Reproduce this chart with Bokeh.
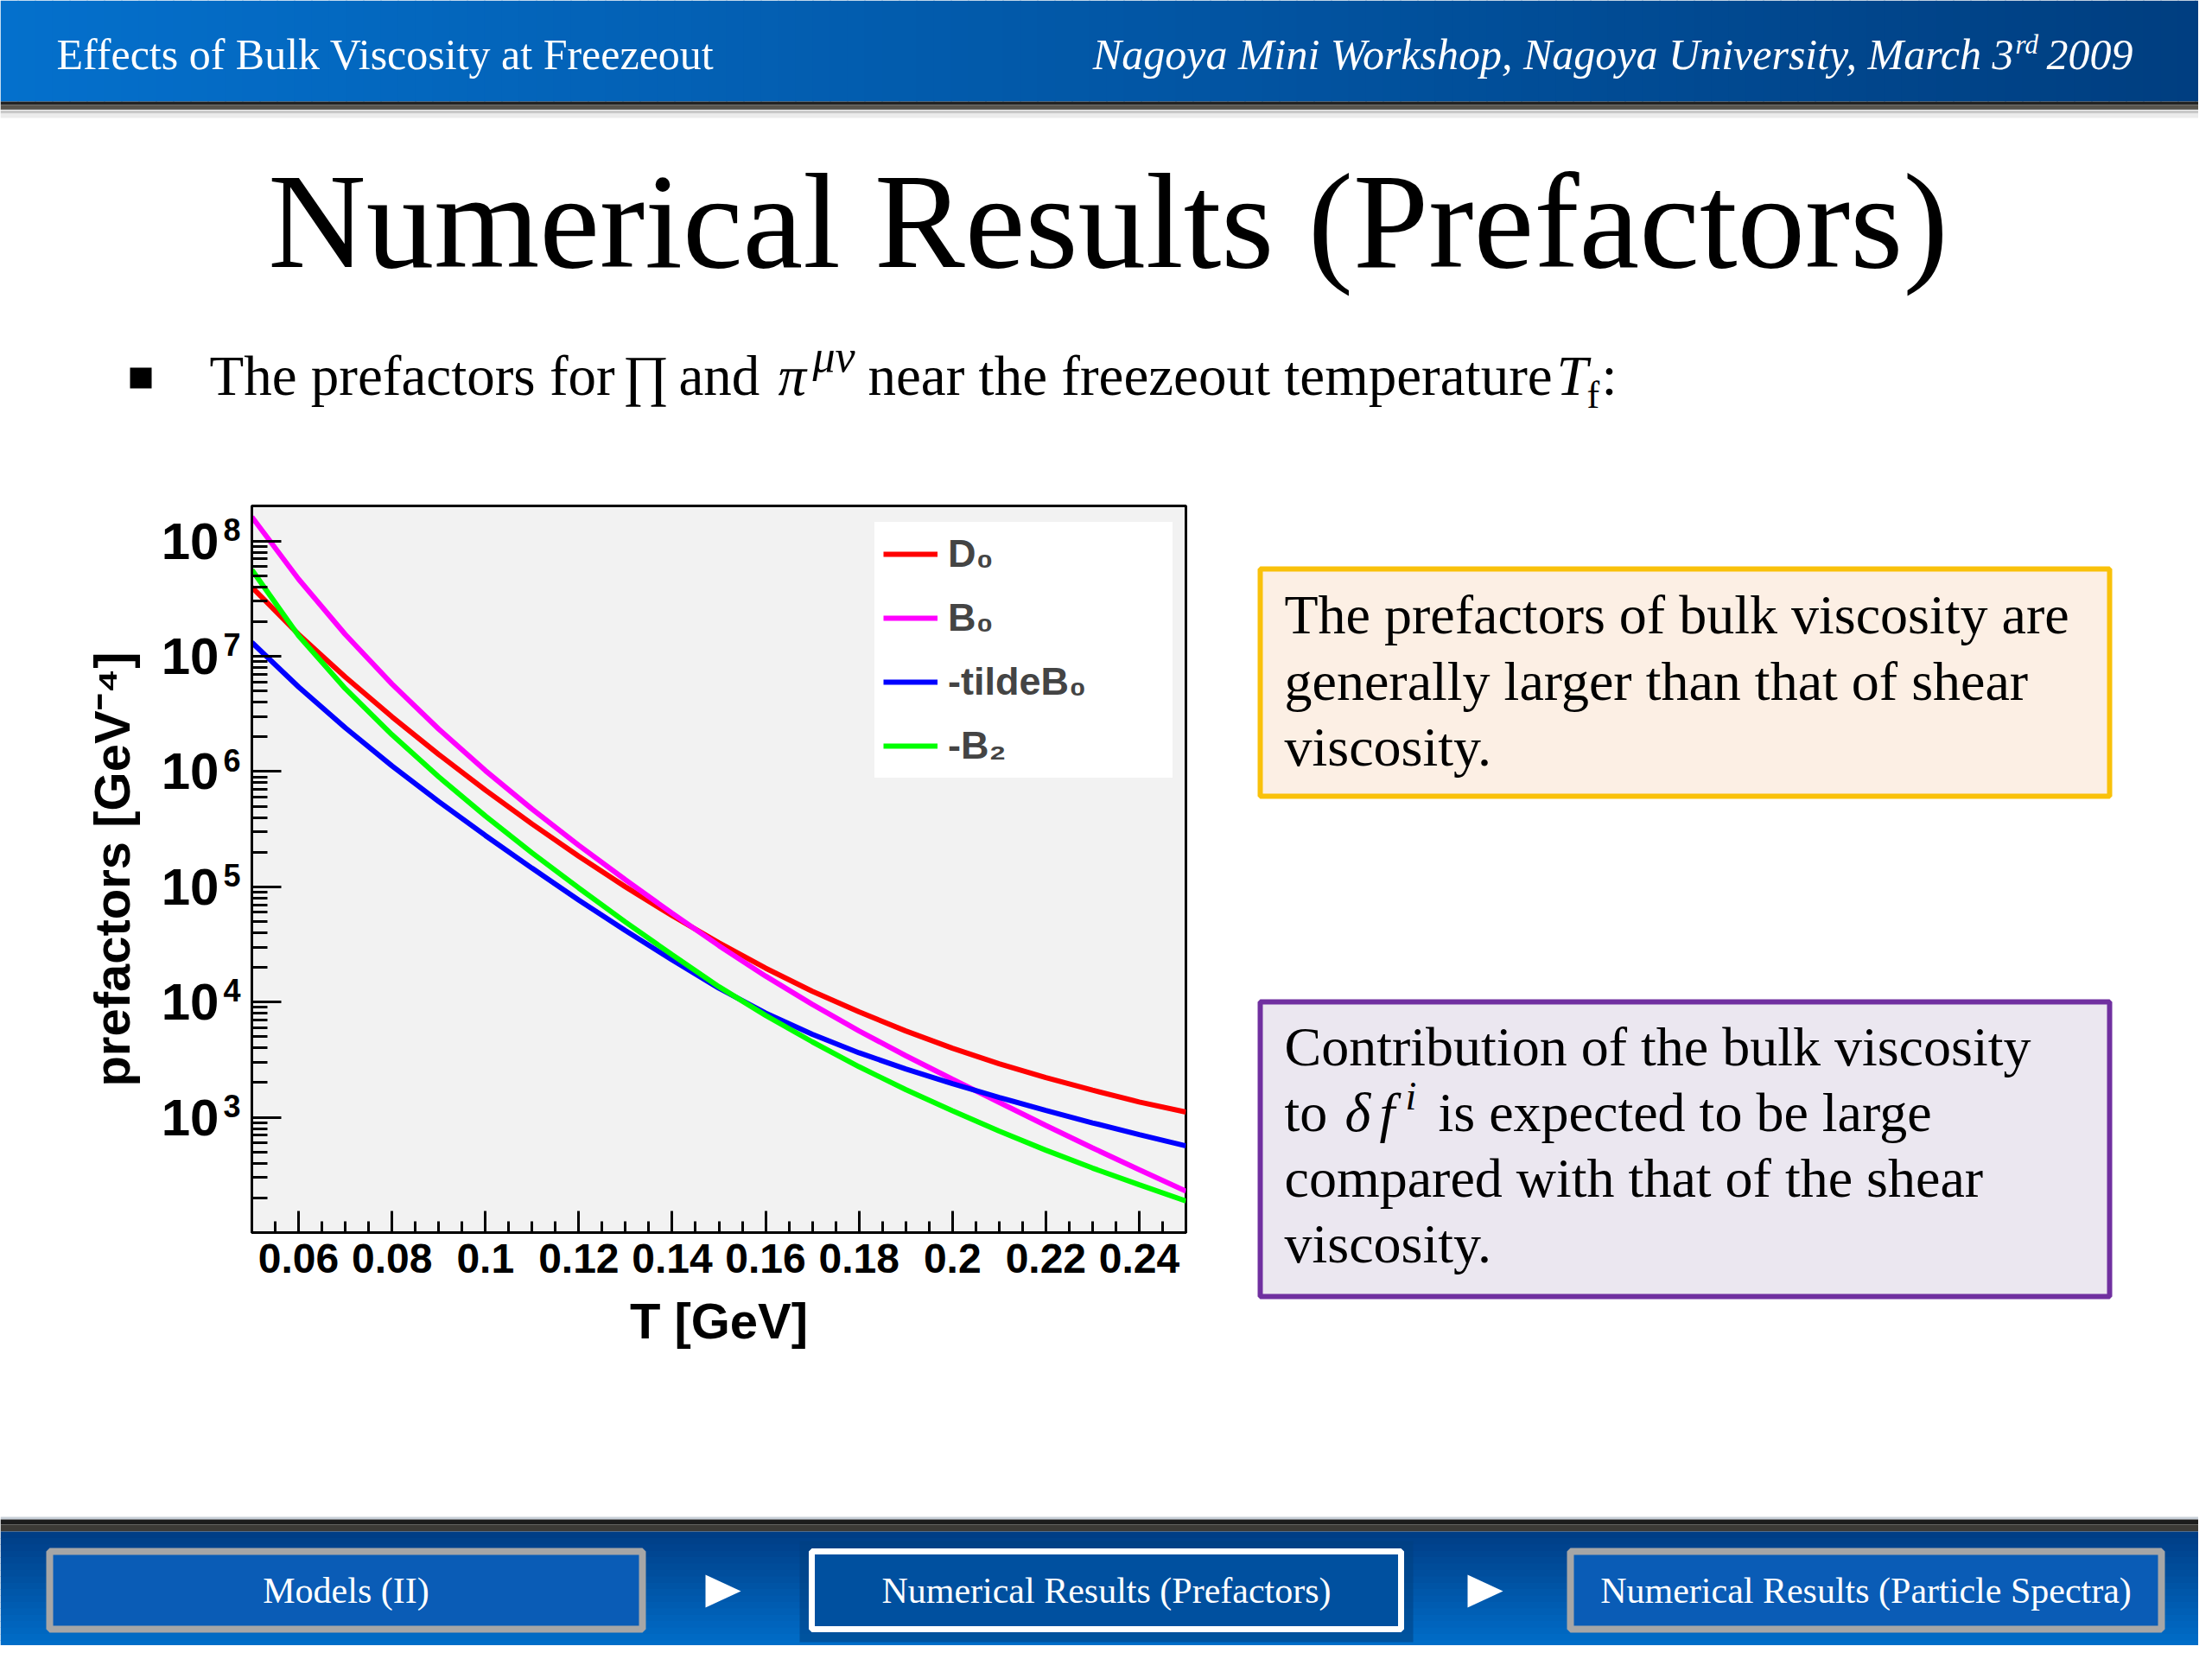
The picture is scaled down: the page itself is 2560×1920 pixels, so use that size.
from bokeh.plotting import figure
from bokeh.models import Range1d, FixedTicker, Legend, LegendItem, LogAxis
from bokeh.layouts import column, row
from bokeh.embed import file_html
from bokeh.resources import INLINE
from bokeh.core.properties import value

# ---------------- data ----------------
T = [0.05, 0.06, 0.07, 0.08, 0.09, 0.10, 0.11, 0.12, 0.13, 0.14, 0.15,
     0.16, 0.17, 0.18, 0.19, 0.20, 0.21, 0.22, 0.23, 0.24, 0.25]
D0 = [3.98e7, 1.55e7, 6.61e6, 2.99e6, 1.41e6, 6.92e5, 3.51e5, 1.84e5, 1.00e5, 5.62e4, 3.27e4,
      1.97e4, 1.24e4, 8.22e3, 5.62e3, 3.98e3, 2.92e3, 2.21e3, 1.72e3, 1.36e3, 1.11e3]
B0 = [1.62e8, 4.68e7, 1.55e7, 5.75e6, 2.34e6, 1.02e6, 4.73e5, 2.29e5, 1.15e5, 5.89e4, 3.09e4,
      1.68e4, 9.55e3, 5.62e3, 3.43e3, 2.14e3, 1.35e3, 851, 543, 351, 229]
mtildeB0 = [1.32e7, 5.43e6, 2.40e6, 1.12e6, 5.50e5, 2.79e5, 1.45e5, 7.67e4, 4.17e4, 2.32e4, 1.32e4,
            8.04e3, 5.25e3, 3.63e3, 2.63e3, 1.96e3, 1.49e3, 1.15e3, 895, 708, 566]
mB2 = [5.62e7, 1.51e7, 5.25e6, 2.09e6, 9.02e5, 4.12e5, 1.97e5, 9.77e4, 4.95e4, 2.57e4, 1.36e4,
       7.67e3, 4.52e3, 2.75e3, 1.74e3, 1.14e3, 759, 519, 363, 260, 188]

series = [D0, B0, mtildeB0, mB2]
series_names = ["D\u2080", "B\u2080", "-tildeB\u2080", "-B\u2082"]
series_colors = ["#ff0000", "#ff00ff", "#0000ff", "#00ff00"]

x_major = [0.06, 0.08, 0.1, 0.12, 0.14, 0.16, 0.18, 0.2, 0.22, 0.24]
x_labels = ["0.06", "0.08", "0.1", "0.12", "0.14", "0.16", "0.18", "0.2", "0.22", "0.24"]
x_minor = [round(0.05 + 0.005 * i, 3) for i in range(41)]
x_minor = [v for v in x_minor if all(abs(v - m) > 1e-9 for m in x_major)]
y_major = [10**3, 10**4, 10**5, 10**6, 10**7, 10**8]
y_base = "10"
y_exponents = ["3", "4", "5", "6", "7", "8"]
y_minor = [k * 10**e for e in range(2, 9) for k in range(2, 10) if k * 10**e < 2.0e8]

x_title = "T [GeV]"
y_title = "prefactors [GeV\u207b\u2074]"

SERIF = "Liberation Serif"
SANS = "Liberation Sans"


# ---------------- helpers for the slide decoration ----------------
def deco_fig(x0, x1, y0, y1):
    f = figure(width=int(x1 - x0), height=int(y1 - y0),
               x_range=Range1d(x0, x1), y_range=Range1d(y1, y0),
               output_backend="svg", toolbar_location=None,
               x_axis_type=None, y_axis_type=None, min_border=0,
               outline_line_color=None, background_fill_color="white",
               border_fill_color="white")
    return f


BASE_SHIFT = 0.35  # renderer places text this fraction of the size below the given y


def txt(f, x, y, s, size, color="black", font=SERIF, style="normal", align="left"):
    f.text(x=[x], y=[y - BASE_SHIFT * size], text=[s], text_font=value(font),
           text_font_size=value(f"{size}px"), text_font_style=value(style),
           text_color=color, text_align=value(align), text_baseline=value("alphabetic"))


def lerp_col(c0, c1, t):
    return "#%02x%02x%02x" % tuple(int(round(a + (b - a) * t)) for a, b in zip(c0, c1))


def style_axis(ax, label_size):
    ax.axis_line_color = "black"
    ax.axis_line_width = 3
    ax.major_tick_out = 0
    ax.minor_tick_out = 0
    ax.major_tick_line_color = "black"
    ax.minor_tick_line_color = "black"
    ax.major_tick_line_width = 3
    ax.minor_tick_line_width = 3
    ax.major_label_text_font = SANS
    ax.major_label_text_font_style = "bold"
    ax.major_label_text_color = "black"
    ax.major_label_text_font_size = label_size
    ax.axis_label_text_font = SANS
    ax.axis_label_text_font_style = "bold"
    ax.axis_label_text_color = "black"
    ax.axis_label_text_font_size = "58px"


W = 2544

# ---------------- header ----------------
hdr = deco_fig(0, W, 0, 127)
n = 128
lefts = [i * 20 for i in range(n)]
hdr.quad(left=lefts, right=[l + 21 for l in lefts], top=0, bottom=117,
         fill_color=[lerp_col((4, 112, 204), (0, 62, 128), i / (n - 1)) for i in range(n)],
         line_color=None)
hdr.quad(left=0, right=2560, top=117, bottom=121, fill_color="#222222", line_color=None)
hdr.quad(left=0, right=2560, top=121, bottom=126, fill_color="#57544d", line_color=None)
hdr.quad(left=0, right=2560, top=126, bottom=128, fill_color="#2a2a2a", line_color=None)
txt(hdr, 65, 80, "Effects of Bulk Viscosity at Freezeout", 50, color="white")
txt(hdr, 2330, 80, "Nagoya Mini Workshop, Nagoya University, March 3", 50, color="white",
    style="italic", align="right")
txt(hdr, 2332, 62, "rd", 31, color="white", style="italic")
txt(hdr, 2368, 80, "2009", 50, color="white", style="italic")

# ---------------- title + bullet ----------------
ttl = deco_fig(0, W, 127, 512)
ttl.quad(left=0, right=2560, top=127, bottom=131, fill_color="#c8c8c8", line_color=None)
ttl.quad(left=0, right=2560, top=131, bottom=136, fill_color="#ececec", line_color=None)
txt(ttl, 1282, 310, "Numerical Results (Prefactors)", 157, align="center")
ttl.quad(left=150, right=175, top=425, bottom=449, fill_color="black", line_color=None)
txt(ttl, 242, 457, "The prefactors for", 65)
txt(ttl, 720, 457, "\u220f", 65)
txt(ttl, 785, 457, "and", 65)
txt(ttl, 900, 457, "\u03c0", 65, style="italic")
txt(ttl, 940, 430, "\u03bc\u03bd", 52, style="italic")
txt(ttl, 1004, 457, "near the freezeout temperature", 65)
txt(ttl, 1801, 457, "T", 65, style="italic")
txt(ttl, 1836, 472, "f", 44)
txt(ttl, 1853, 457, ":", 65)

# ---------------- chart ----------------
p = figure(width=1420, height=1225, x_range=Range1d(0.05, 0.25), y_range=Range1d(100, 2.02e8),
           y_axis_type="log", output_backend="svg", toolbar_location=None,
           min_border_left=291, min_border_right=48, min_border_top=73, min_border_bottom=311,
           background_fill_color="#f2f2f2", border_fill_color="white",
           outline_line_color="black", outline_line_width=3)
p.grid.visible = False

renderers = []
for vals, col in zip(series, series_colors):
    renderers.append(p.line(T, vals, line_color=col, line_width=6))

legend = Legend(items=[LegendItem(label=nm, renderers=[r]) for nm, r in zip(series_names, renderers)],
                location=(721, 526), padding=10, spacing=20, glyph_height=54, label_height=54,
                glyph_width=63, label_standoff=12, label_width=250, margin=0,
                border_line_alpha=0, background_fill_color="white", background_fill_alpha=1,
                label_text_font=SANS, label_text_font_style="bold", label_text_font_size="45px")
p.add_layout(legend)

# x axis
xa = p.xaxis[0]
style_axis(xa, "48px")
xa.ticker = FixedTicker(ticks=x_major, minor_ticks=x_minor)
xa.major_label_overrides = dict(zip(x_major, x_labels))
xa.major_tick_in = 25
xa.minor_tick_in = 13
xa.major_label_standoff = 13
xa.axis_label = x_title
xa.axis_label_standoff = 20

# y axis: tick marks only (nearest the frame)
ya = p.yaxis[0]
style_axis(ya, "0px")
ya.ticker = FixedTicker(ticks=y_major, minor_ticks=y_minor)
ya.major_label_overrides = {v: "" for v in y_major}
ya.major_tick_in = 34
ya.minor_tick_in = 18
ya.major_label_standoff = 0

# y axis: exponents, a little above each decade
exp_pos = [v * 10**0.1 for v in y_major]
ye = LogAxis(ticker=FixedTicker(ticks=exp_pos))
style_axis(ye, "36px")
ye.major_label_overrides = dict(zip(exp_pos, y_exponents))
ye.axis_line_color = None
ye.major_tick_in = 0
ye.minor_tick_in = 0
ye.major_label_standoff = 13
p.add_layout(ye, "left")

# y axis: the base "10" of each decade label and the axis title
yb = LogAxis(ticker=FixedTicker(ticks=y_major))
style_axis(yb, "60px")
yb.major_label_overrides = {v: y_base for v in y_major}
yb.axis_line_color = None
yb.major_tick_in = 0
yb.minor_tick_in = 0
yb.major_label_standoff = 2
yb.axis_label = y_title
yb.axis_label_standoff = 22
p.add_layout(yb, "left")

# ---------------- text boxes ----------------
bx = deco_fig(1420, W, 512, 1737)
bx.quad(left=1458, right=2441, top=658, bottom=921, fill_color="#fcefe4",
        line_color="#f9c10a", line_width=6)
txt(bx, 1486, 733, "The prefactors of bulk viscosity are", 64)
txt(bx, 1486, 810, "generally larger than that of shear", 64)
txt(bx, 1486, 886, "viscosity.", 64)

bx.quad(left=1458, right=2441, top=1159, bottom=1500, fill_color="#ebe7f0",
        line_color="#7030a0", line_width=6)
txt(bx, 1486, 1233, "Contribution of the bulk viscosity", 64)
txt(bx, 1486, 1309, "to", 64)
txt(bx, 1556, 1309, "\u03b4", 64, style="italic")
txt(bx, 1596, 1309, "f", 64, style="italic")
txt(bx, 1626, 1284, "i", 46, style="italic")
txt(bx, 1664, 1309, "is expected to be large", 64)
txt(bx, 1486, 1385, "compared with that of the shear", 64)
txt(bx, 1486, 1461, "viscosity.", 64)

# ---------------- footer ----------------
ftr = deco_fig(0, W, 1737, 1904)
ftr.quad(left=0, right=2560, top=1755, bottom=1758, fill_color="#c8d0d8", line_color=None)
ftr.quad(left=0, right=2560, top=1758, bottom=1764, fill_color="#1c1c1c", line_color=None)
ftr.quad(left=0, right=2560, top=1764, bottom=1772, fill_color="#3c3a36", line_color=None)
m = 20
tops = [1772 + i * 7.4 for i in range(m)]
ftr.quad(left=0, right=2560, top=tops, bottom=[t + 8 for t in tops],
         fill_color=[lerp_col((0, 62, 134), (0, 114, 208), i / (m - 1)) for i in range(m)],
         line_color=None)
ftr.quad(left=925, right=1635, top=1783, bottom=1900, fill_color="#003f80", fill_alpha=0.55,
         line_color=None)
ftr.quad(left=[57, 1817], right=[743, 2501], top=1795, bottom=1885, fill_color="#0a5cb6",
         line_color="#a6a6a6", line_width=8)
ftr.quad(left=939, right=1621, top=1795, bottom=1885, fill_color="#00509f",
         line_color="white", line_width=7)
ftr.patches(xs=[[816, 857, 816], [1698, 1739, 1698]], ys=[[1822, 1841, 1860], [1822, 1841, 1860]],
            fill_color="white", line_color=None)
txt(ftr, 400, 1855, "Models (II)", 42, color="white", align="center")
txt(ftr, 1280, 1855, "Numerical Results (Prefactors)", 42, color="white", align="center")
txt(ftr, 2159, 1855, "Numerical Results (Particle Spectra)", 42, color="white", align="center")

layout = column(hdr, ttl, row(p, column(bx)), ftr)
open("out.html", "w").write(file_html(layout, INLINE))
